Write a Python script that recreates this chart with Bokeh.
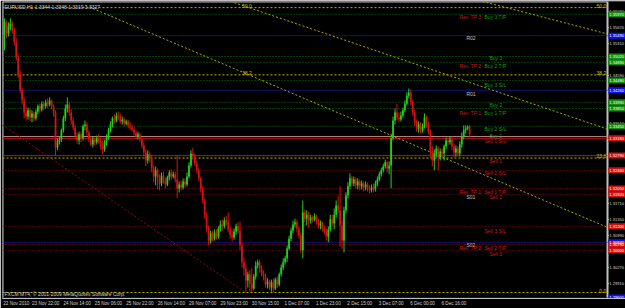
from bokeh.plotting import figure
from bokeh.models import ColumnDataSource, FixedTicker, Label, Range1d
from bokeh.embed import file_html
from bokeh.resources import INLINE
from bokeh.core.properties import value

symbol = "EURUSD,H1"

opens = [1.3549,1.3579,1.3554,1.3570,1.3576,1.3561,1.3534,1.3500,1.3459,1.3426,
1.3403,1.3376,1.3367,1.3381,1.3365,1.3374,1.3363,1.3378,1.3390,1.3383,
1.3396,1.3390,1.3399,1.3394,1.3403,1.3390,1.3376,1.3297,1.3311,1.3315,
1.3336,1.3363,1.3385,1.3394,1.3376,1.3358,1.3342,1.3324,1.3313,1.3327,
1.3318,1.3345,1.3349,1.3331,1.3315,1.3304,1.3315,1.3309,1.3318,1.3311,
1.3300,1.3293,1.3309,1.3320,1.3336,1.3349,1.3363,1.3358,1.3369,1.3367,
1.3356,1.3360,1.3351,1.3356,1.3347,1.3342,1.3338,1.3331,1.3322,1.3327,
1.3315,1.3302,1.3286,1.3268,1.3282,1.3273,1.3250,1.3232,1.3246,1.3228,
1.3216,1.3234,1.3223,1.3214,1.3230,1.3241,1.3232,1.3237,1.3225,1.3205,
1.3214,1.3207,1.3221,1.3214,1.3232,1.3257,1.3284,1.3277,1.3261,1.3246,
1.3228,1.3205,1.3178,1.3146,1.3115,1.3088,1.3104,1.3092,1.3106,1.3097,
1.3115,1.3124,1.3120,1.3133,1.3129,1.3113,1.3101,1.3095,1.3108,1.3120,
1.3110,1.3077,1.3039,1.3025,1.2998,1.3012,1.2991,1.2980,1.3007,1.3032,
1.3039,1.3025,1.3014,1.3007,1.2989,1.2996,1.2982,1.2994,1.2980,1.3000,
1.2989,1.3012,1.3027,1.3039,1.3048,1.3070,1.3092,1.3110,1.3124,1.3129,
1.3115,1.3099,1.3066,1.3151,1.3137,1.3146,1.3133,1.3140,1.3135,1.3142,
1.3131,1.3122,1.3126,1.3115,1.3108,1.3097,1.3113,1.3135,1.3126,1.3146,
1.3167,1.3156,1.3122,1.3088,1.3156,1.3189,1.3210,1.3228,1.3216,1.3225,
1.3212,1.3221,1.3210,1.3216,1.3207,1.3214,1.3205,1.3201,1.3207,1.3203,
1.3216,1.3225,1.3237,1.3246,1.3255,1.3264,1.3250,1.3257,1.3318,1.3358,
1.3376,1.3365,1.3360,1.3369,1.3381,1.3396,1.3414,1.3421,1.3399,1.3376,
1.3354,1.3340,1.3349,1.3336,1.3345,1.3365,1.3349,1.3333,1.3291,1.3268,
1.3284,1.3295,1.3275,1.3288,1.3284,1.3300,1.3313,1.3309,1.3315,1.3300,
1.3286,1.3295,1.3284,1.3304,1.3322,1.3336,1.3340,1.3344]

closes = [1.3579,1.3554,1.3570,1.3576,1.3561,1.3534,1.3500,1.3459,1.3426,1.3403,
1.3376,1.3367,1.3381,1.3365,1.3374,1.3363,1.3378,1.3390,1.3383,1.3396,
1.3390,1.3399,1.3394,1.3403,1.3390,1.3376,1.3297,1.3311,1.3315,1.3336,
1.3363,1.3385,1.3394,1.3376,1.3358,1.3342,1.3324,1.3313,1.3327,1.3318,
1.3345,1.3349,1.3331,1.3315,1.3304,1.3315,1.3309,1.3318,1.3311,1.3300,
1.3293,1.3309,1.3320,1.3336,1.3349,1.3363,1.3358,1.3369,1.3367,1.3356,
1.3360,1.3351,1.3356,1.3347,1.3342,1.3338,1.3331,1.3322,1.3327,1.3315,
1.3302,1.3286,1.3268,1.3282,1.3273,1.3250,1.3232,1.3246,1.3228,1.3216,
1.3234,1.3223,1.3214,1.3230,1.3241,1.3232,1.3237,1.3225,1.3205,1.3214,
1.3207,1.3221,1.3214,1.3232,1.3257,1.3284,1.3277,1.3261,1.3246,1.3228,
1.3205,1.3178,1.3146,1.3115,1.3088,1.3104,1.3092,1.3106,1.3097,1.3115,
1.3124,1.3120,1.3133,1.3129,1.3113,1.3101,1.3095,1.3108,1.3120,1.3110,
1.3077,1.3039,1.3025,1.2998,1.3012,1.2991,1.2980,1.3007,1.3032,1.3039,
1.3025,1.3014,1.3007,1.2989,1.2996,1.2982,1.2994,1.2980,1.3000,1.2989,
1.3012,1.3027,1.3039,1.3048,1.3070,1.3092,1.3110,1.3124,1.3129,1.3115,
1.3099,1.3066,1.3151,1.3137,1.3146,1.3133,1.3140,1.3135,1.3142,1.3131,
1.3122,1.3126,1.3115,1.3108,1.3097,1.3113,1.3135,1.3126,1.3146,1.3167,
1.3156,1.3122,1.3088,1.3156,1.3189,1.3210,1.3228,1.3216,1.3225,1.3212,
1.3221,1.3210,1.3216,1.3207,1.3214,1.3205,1.3201,1.3207,1.3203,1.3216,
1.3225,1.3237,1.3246,1.3255,1.3264,1.3250,1.3257,1.3318,1.3358,1.3376,
1.3365,1.3360,1.3369,1.3381,1.3396,1.3414,1.3421,1.3399,1.3376,1.3354,
1.3340,1.3349,1.3336,1.3345,1.3365,1.3349,1.3333,1.3291,1.3268,1.3284,
1.3295,1.3275,1.3288,1.3284,1.3300,1.3313,1.3309,1.3315,1.3300,1.3286,
1.3295,1.3284,1.3304,1.3322,1.3336,1.3340,1.3344,1.3327]

highs = [1.3588,1.3583,1.3579,1.3588,1.3581,1.3567,1.3543,1.3507,1.3471,1.3432,
1.3410,1.3390,1.3387,1.3385,1.3381,1.3378,1.3383,1.3394,1.3396,1.3401,
1.3401,1.3405,1.3408,1.3410,1.3405,1.3394,1.3381,1.3318,1.3322,1.3340,
1.3369,1.3394,1.3410,1.3399,1.3383,1.3365,1.3349,1.3331,1.3333,1.3333,
1.3349,1.3358,1.3354,1.3336,1.3322,1.3322,1.3320,1.3324,1.3327,1.3318,
1.3313,1.3315,1.3327,1.3342,1.3356,1.3367,1.3372,1.3376,1.3378,1.3374,
1.3367,1.3365,1.3360,1.3360,1.3354,1.3349,1.3345,1.3336,1.3333,1.3331,
1.3320,1.3309,1.3293,1.3291,1.3288,1.3279,1.3257,1.3255,1.3250,1.3237,
1.3241,1.3243,1.3230,1.3234,1.3246,1.3248,1.3243,1.3243,1.3279,1.3221,
1.3223,1.3228,1.3228,1.3241,1.3264,1.3291,1.3297,1.3284,1.3268,1.3252,
1.3232,1.3210,1.3183,1.3151,1.3122,1.3110,1.3110,1.3113,1.3113,1.3120,
1.3133,1.3135,1.3140,1.3144,1.3151,1.3120,1.3110,1.3115,1.3126,1.3129,
1.3131,1.3084,1.3050,1.3034,1.3018,1.3021,1.3025,1.3012,1.3041,1.3045,
1.3045,1.3032,1.3021,1.3014,1.3003,1.3000,1.3000,1.3003,1.3005,1.3007,
1.3016,1.3034,1.3048,1.3054,1.3077,1.3099,1.3117,1.3133,1.3137,1.3135,
1.3120,1.3106,1.3178,1.3158,1.3156,1.3153,1.3146,1.3144,1.3149,1.3146,
1.3137,1.3133,1.3131,1.3122,1.3115,1.3120,1.3146,1.3146,1.3160,1.3178,
1.3189,1.3210,1.3133,1.3164,1.3196,1.3219,1.3239,1.3234,1.3232,1.3230,
1.3228,1.3225,1.3223,1.3221,1.3221,1.3219,1.3212,1.3214,1.3216,1.3223,
1.3232,1.3243,1.3252,1.3261,1.3270,1.3268,1.3266,1.3329,1.3367,1.3385,
1.3396,1.3376,1.3378,1.3387,1.3403,1.3421,1.3430,1.3428,1.3405,1.3383,
1.3360,1.3356,1.3354,1.3351,1.3374,1.3369,1.3356,1.3338,1.3300,1.3293,
1.3302,1.3300,1.3295,1.3295,1.3304,1.3320,1.3320,1.3322,1.3322,1.3306,
1.3302,1.3300,1.3311,1.3331,1.3347,1.3347,1.3347,1.3348]

lows = [1.3516,1.3543,1.3547,1.3561,1.3554,1.3527,1.3493,1.3453,1.3419,1.3394,
1.3363,1.3358,1.3360,1.3356,1.3354,1.3356,1.3358,1.3372,1.3374,1.3378,
1.3381,1.3385,1.3387,1.3390,1.3383,1.3367,1.3279,1.3291,1.3304,1.3309,
1.3331,1.3356,1.3376,1.3369,1.3349,1.3336,1.3315,1.3306,1.3304,1.3309,
1.3313,1.3336,1.3324,1.3309,1.3300,1.3297,1.3302,1.3304,1.3306,1.3293,
1.3282,1.3288,1.3302,1.3315,1.3331,1.3342,1.3351,1.3354,1.3360,1.3351,
1.3349,1.3345,1.3347,1.3340,1.3336,1.3333,1.3324,1.3318,1.3315,1.3309,
1.3295,1.3277,1.3255,1.3261,1.3264,1.3241,1.3219,1.3212,1.3203,1.3201,
1.3210,1.3216,1.3205,1.3210,1.3223,1.3225,1.3228,1.3219,1.3183,1.3196,
1.3201,1.3203,1.3207,1.3210,1.3228,1.3252,1.3270,1.3255,1.3239,1.3221,
1.3196,1.3171,1.3137,1.3106,1.3077,1.3081,1.3086,1.3088,1.3090,1.3092,
1.3108,1.3110,1.3115,1.3122,1.3106,1.3092,1.3086,1.3090,1.3101,1.3104,
1.3066,1.3027,1.3009,1.2971,1.2982,1.2973,1.2971,1.2976,1.3000,1.3025,
1.3016,1.3007,1.2998,1.2982,1.2980,1.2976,1.2973,1.2971,1.2976,1.2982,
1.2985,1.3007,1.3021,1.3034,1.3039,1.3066,1.3086,1.3104,1.3117,1.3106,
1.3092,1.3059,1.3048,1.3129,1.3122,1.3117,1.3126,1.3129,1.3131,1.3124,
1.3115,1.3113,1.3108,1.3101,1.3088,1.3084,1.3108,1.3120,1.3113,1.3140,
1.3149,1.3074,1.3070,1.3061,1.3149,1.3183,1.3203,1.3210,1.3210,1.3205,
1.3203,1.3201,1.3203,1.3198,1.3201,1.3198,1.3194,1.3196,1.3196,1.3198,
1.3210,1.3221,1.3232,1.3241,1.3250,1.3241,1.3237,1.3205,1.3313,1.3349,
1.3358,1.3354,1.3356,1.3365,1.3376,1.3392,1.3408,1.3392,1.3369,1.3345,
1.3333,1.3331,1.3329,1.3331,1.3340,1.3342,1.3327,1.3273,1.3255,1.3246,
1.3275,1.3246,1.3268,1.3275,1.3268,1.3293,1.3302,1.3304,1.3291,1.3275,
1.3277,1.3277,1.3277,1.3297,1.3315,1.3329,1.3336,1.3319]

# time axis labels (bar index where each label starts)
time_labels = ["22 Nov 2010", "23 Nov 22:00", "24 Nov 14:00", "25 Nov 06:00", "25 Nov 22:00",
               "26 Nov 14:00", "29 Nov 07:00", "29 Nov 23:00", "30 Nov 15:00", "1 Dec 07:00",
               "1 Dec 23:00", "2 Dec 15:00", "3 Dec 07:00", "6 Dec 00:00", "6 Dec 16:00"]
time_label_bars = [-1, 14, 30, 46, 62, 78, 94, 110, 126, 142, 158, 174, 190, 206, 222]

price_ticks = [1.29910, 1.30270, 1.30630, 1.30990, 1.31350, 1.31710, 1.32070, 1.32430, 1.32790,
               1.33150, 1.33510, 1.33870, 1.34230, 1.34590, 1.34950, 1.35310, 1.35670, 1.36030]

# horizontal levels: price, kind
level_prices = [1.3597, 1.3549, 1.3502, 1.3489, 1.3448, 1.3426, 1.3399, 1.3385, 1.3345,
                1.3322, 1.3318, 1.3279, 1.3246, 1.3205, 1.3192, 1.3120, 1.3084, 1.3079, 1.3066, 1.2960]
level_kinds = ["buy", "pivot", "buy", "buy", "buy", "pivot", "buy", "buy", "buy",
               "mid", "solid", "solid", "sell", "sell", "sell", "sell", "pivot", "sell", "sell", "pivot"]

# fibonacci retracement
fib_low = 1.2971
fib_high = 1.4253
fib_levels = [0.0, 23.6, 38.2, 50.0]

# trend lines
trend_x0 = [41.3, 115.2, 243.6, -1.0]
trend_p0 = [1.3617, 1.3626, 1.3626, 1.3348]
trend_x1 = [307.0, 307.0, 307.0, 122.8]
trend_p1 = [1.3118, 1.3339, 1.3553, 1.2971]
trend_kind = ["fib", "fib", "fib", "red"]

# level texts
lvl_text = ["Rev. TP 3", "Buy 3 T/P", "R02", "Buy 3", "Rev. TP 2", "Buy 2 T/P", "Buy 3 S/L", "R01",
            "Buy 2", "Rev. TP 1", "Buy 1 T/P", "Buy 2 S/L", "Buy 1", "Sell 1 S/L", "Sell 1", "Sell 2 S/L",
            "Rev. TP 1", "Sell 1 T/P", "S01", "Sell 2", "Sell 3 S/L", "S02", "Rev. TP 2", "Sell 2 T/P", "Sell 3"]
lvl_bar = [231.8, 244.6, 235.4, 247.1, 231.8, 244.6, 244.6, 235.4,
           247.1, 231.8, 244.6, 244.6, 247.1, 244.6, 247.1, 244.6,
           231.8, 244.6, 235.4, 247.1, 244.6, 235.4, 231.8, 244.6, 247.1]
lvl_price = [1.3590, 1.3590, 1.3543, 1.3498, 1.3480, 1.3480, 1.3439, 1.3417,
             1.3394, 1.3376, 1.3376, 1.3338, 1.3324, 1.3311, 1.3268, 1.3241,
             1.3198, 1.3198, 1.3185, 1.3185, 1.3110, 1.3077, 1.3072, 1.3072, 1.3057]
lvl_kind = ["rev", "buy", "piv", "buy", "rev", "buy", "buy", "piv",
            "buy", "rev", "buy", "buy", "buy", "sell", "sell", "sell",
            "rev", "sell", "piv", "sell", "sell", "piv", "rev", "sell", "sell"]

UP = "#1ed21e"
DOWN = "#d21414"
FONT = "Liberation Sans"
PITCH = 1.9625            # pixels per bar
X0 = -1.02                # left edge of chart (bars)
X1 = X0 + 623 / PITCH     # right edge of canvas (bars)
X_AX = 307.26             # price-scale border
Y0, Y1 = 1.29575, 1.36258

p = figure(width=625, height=308, output_backend="svg", toolbar_location=None,
           x_range=Range1d(X0, X1), y_range=Range1d(Y0, Y1), y_axis_location=None,
           min_border_left=2, min_border_top=1, min_border_right=0, min_border_bottom=10,
           background_fill_color="#000000", border_fill_color="#000000",
           outline_line_color=None)
p.grid.visible = False

ax = p.xaxis[0]
ax.axis_line_color = "#c0c0c0"
ax.major_tick_line_color = None
ax.major_tick_in = 0
ax.major_tick_out = 0
ax.minor_tick_out = 0
ax.minor_tick_in = 0
ax.major_label_text_font_size = "4.6px"
ax.major_label_text_font = FONT
ax.major_label_text_color = "#d0d0d0"
ax.major_label_standoff = 2
tick_pos = [b + 7 for b in time_label_bars]
ax.ticker = FixedTicker(ticks=tick_pos)
ax.major_label_overrides = {t: s for t, s in zip(tick_pos, time_labels)}

# chart borders
p.segment(x0=[X0, X0, X_AX], y0=[Y1, Y0, Y0], x1=[X_AX, X0, X_AX], y1=[Y1, Y1, Y1],
          line_color="#c0c0c0", line_width=2)

# horizontal levels
kind_style = {
    "buy": ("#0a7d0a", "1 2"),
    "sell": ("#a00a0a", "1 2"),
    "pivot": ("#2020e0", "1 1"),
    "mid": ("#b08080", "solid"),
    "solid": ("#c81010", "solid"),
}
for dash in ("1 2", "1 1", "solid"):
    sel = [i for i, k in enumerate(level_kinds) if kind_style[k][1] == dash]
    src = ColumnDataSource(dict(y=[level_prices[i] for i in sel],
                                x0=[X0] * len(sel), x1=[X_AX] * len(sel),
                                c=[kind_style[level_kinds[i]][0] for i in sel]))
    p.segment(x0="x0", y0="y", x1="x1", y1="y", line_color="c", line_dash=dash, line_width=1, source=src)

# fib lines
fib_prices = [fib_low + (fib_high - fib_low) * lv / 100.0 for lv in fib_levels]
p.segment(x0=[X0] * len(fib_prices), y0=fib_prices, x1=[X_AX] * len(fib_prices), y1=fib_prices,
          line_color="#b4b400", line_dash="2 2", line_width=1)

# trend lines
tsrc = ColumnDataSource(dict(x0=trend_x0, y0=trend_p0, x1=trend_x1, y1=trend_p1,
                             c=["#a8a800" if k == "fib" else "#960a0a" for k in trend_kind]))
p.segment(x0="x0", y0="y0", x1="x1", y1="y1", line_color="c", line_dash="2 2", line_width=1, source=tsrc)

# candles
n = len(closes)
bars = list(range(n))
up = [i for i in bars if closes[i] >= opens[i]]
dn = [i for i in bars if closes[i] < opens[i]]
for sel, col in ((up, UP), (dn, DOWN)):
    src = ColumnDataSource(dict(
        x=[bars[i] for i in sel],
        h=[highs[i] for i in sel], l=[lows[i] for i in sel],
        top=[max(opens[i], closes[i]) for i in sel],
        bot=[min(opens[i], closes[i]) for i in sel]))
    p.segment(x0="x", y0="h", x1="x", y1="l", line_color=col, line_width=1, source=src)
    p.vbar(x="x", width=0.9, top="top", bottom="bot", fill_color=col, line_color=None, source=src)

# level texts
tcol = {"rev": "#c81e1e", "buy": "#1e9b1e", "sell": "#c81e1e", "piv": "#c0c0c0"}
lsrc = ColumnDataSource(dict(x=lvl_bar, y=lvl_price, t=lvl_text, c=[tcol[k] for k in lvl_kind]))
p.text(x="x", y="y", text="t", text_color="c", text_font=value(FONT), text_font_size="5px",
       text_baseline="middle", text_align="left", source=lsrc)

# fib labels
fsrc = ColumnDataSource(dict(x=[306.6] * len(fib_levels), y=fib_prices,
                             t=["%.1f" % lv for lv in fib_levels]))
p.text(x="x", y="y", text="t", text_color="#c8c800", text_font=value(FONT), text_font_size="5px",
       text_baseline="bottom", text_align="right", source=fsrc)
fsrc2 = ColumnDataSource(dict(x=[121.0, 121.0], y=fib_prices[2:],
                              t=["%.1f" % lv for lv in fib_levels[2:]]))
p.text(x="x", y="y", text="t", text_color="#c8c800", text_font=value(FONT), text_font_size="5px",
       text_baseline="bottom", text_align="left", source=fsrc2)

# price scale: ticks and labels (shrunk to fit the narrow scale)
SCALE_FONT = "4.1px"
p.segment(x0=[X_AX] * len(price_ticks), y0=price_ticks, x1=[X_AX + 0.7] * len(price_ticks), y1=price_ticks,
          line_color="#c0c0c0", line_width=1)
p.text(x=[X_AX + 0.9] * len(price_ticks), y=price_ticks, text=["%.5f" % t for t in price_ticks],
       text_color="#d0d0d0", text_font=value(FONT), text_font_size=SCALE_FONT,
       text_baseline="middle", text_align="left")

# coloured price boxes for the level lines
box_color = {"buy": "#108c10", "sell": "#d01010", "pivot": "#1010f0", "solid": "#d01010"}
bsel = [i for i, k in enumerate(level_kinds) if k in box_color]
bsrc = ColumnDataSource(dict(y=[level_prices[i] for i in bsel],
                             x=[X_AX + 0.45 + 9 / PITCH] * len(bsel),
                             xt=[X_AX + 0.9] * len(bsel),
                             t=["%.5f" % level_prices[i] for i in bsel],
                             c=[box_color[level_kinds[i]] for i in bsel]))
p.rect(x="x", y="y", width=18, height=6, width_units="screen", height_units="screen",
       fill_color="c", line_color=None, source=bsrc)
p.text(x="xt", y="y", text="t", text_color="#ffffff", text_font=value(FONT), text_font_size=SCALE_FONT,
       text_baseline="middle", text_align="left", source=bsrc)

# header & copyright
title = "%s  %.4f %.4f %.4f %.4f" % (symbol, opens[-1], highs[-1], lows[-1], closes[-1])
p.add_layout(Label(x=0, y=Y1, y_offset=-2, text=title, text_font=FONT, text_font_size="5px",
                   text_color="#d0d0d0", text_baseline="top"))
p.add_layout(Label(x=0, y=Y0, y_offset=2, text="FXCM MT4, \u00a9 2001-2009 MetaQuotes Software Corp.",
                   text_font=FONT, text_font_size="5px", text_color="#d0d0d0", text_baseline="bottom"))

open("out.html", "w").write(file_html(p, INLINE))
